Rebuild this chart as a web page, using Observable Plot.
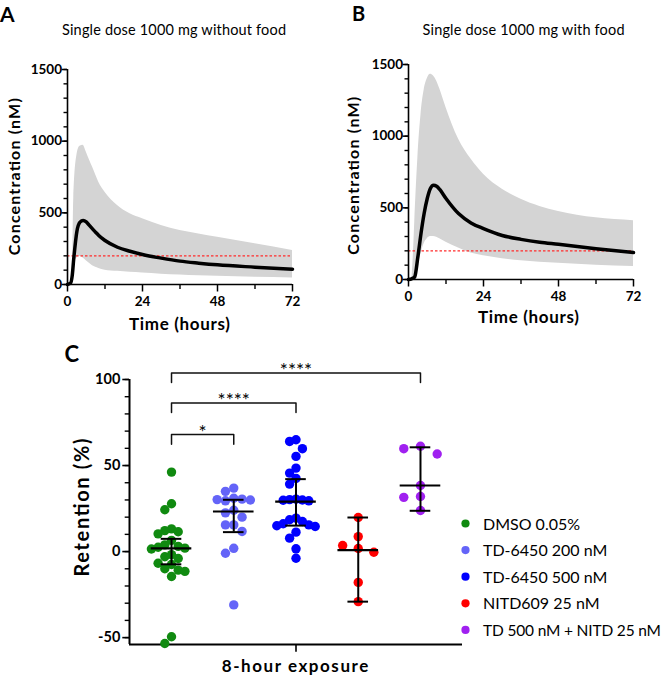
<!DOCTYPE html>
<html>
<head>
<meta charset="utf-8">
<script src="https://cdn.jsdelivr.net/npm/d3@7"></script>
<script src="https://cdn.jsdelivr.net/npm/@observablehq/plot@0.6"></script>
<style>
  html, body { margin: 0; padding: 0; background: #fff; }
  #fig { position: relative; width: 663px; height: 677px; overflow: hidden; color: #000; font-family: Lato, "Open Sans", sans-serif; }
  .panel { position: absolute; }
</style>
</head>
<body>
<div id="fig"></div>
<script>
// ---------------- DATA ----------------
// Panels A & B: simulated concentration-time profiles (nM)
const timeHours = [0, 1, 1.5, 2, 3, 4, 5, 6, 7, 8, 9, 10, 12, 16, 20, 24, 30, 36, 42, 48, 60, 72];
const meanFasted  = [0, 10, 60, 180, 370, 435, 447, 437, 412, 388, 365, 342, 307, 260, 232, 209, 184, 163, 149, 137, 121, 107];
const upperFasted = [0, 0, 0, 600, 900, 965, 972, 925, 870, 819, 765, 714, 644, 551, 493, 458, 412, 377, 353, 330, 284, 237];
const lowerFasted = [0, 0, 0, 130, 185, 195, 185, 165, 148, 130, 120, 112, 100, 92, 85, 80, 72, 66, 61, 57, 51, 46];
const meanFed  = [0, 5, 10, 19, 158, 321, 460, 565, 635, 658, 651, 628, 565, 460, 395, 355, 307, 280, 260, 246, 215, 188];
const upperFed = [0, 0, 150, 400, 850, 1150, 1320, 1400, 1432, 1420, 1385, 1330, 1200, 980, 840, 735, 630, 560, 510, 475, 430, 410];
const lowerFed = [0, 0, 10, 20, 90, 180, 250, 285, 300, 300, 295, 285, 260, 220, 185, 165, 145, 130, 120, 113, 100, 90];
const thresholdNM = [200];
const timeTicks = [0, 24, 48, 72];
const timeMinorTicks = [12, 36, 60];
const concTicks = [0, 500, 1000, 1500];
const concMinorTicks = [0, 100, 200, 300, 400, 500, 600, 700, 800, 900, 1000, 1100, 1200, 1300, 1400, 1500];
const panelTitles = ["Single dose 1000 mg without food", "Single dose 1000 mg with food"];

// Panel C: retention (%) after 8-hour exposure
const groups = ["DMSO 0.05%", "TD-6450 200 nM", "TD-6450 500 nM", "NITD609 25 nM", "TD 500 nM + NITD 25 nM"];
const groupColors = ["#108a10", "#6464f8", "#0000ff", "#ff0000", "#a020f0"];
const dmso  = [46.2, 27.8, 24.3, 13.2, 12.2, 11.5, 10.3, 6.5, 3.9, 3.0, 2.5, 2.0, 1.5, -1.8, -3.0, -4.0, -6.8, -7.5, -10.0, -10.8, -11.5, -14.5, -49.5, -53.4];
const td200 = [36.9, 35.0, 31.0, 30.5, 30.2, 30.0, 29.5, 24.0, 22.5, 20.0, 15.5, 15.5, 11.7, 1.9, -1.0, -31.0];
const td500 = [65.0, 64.0, 59.8, 55.3, 48.5, 45.6, 42.5, 39.2, 30.5, 30.2, 30.0, 29.8, 29.5, 19.4, 18.5, 17.5, 16.2, 15.5, 15.0, 14.6, 11.3, 7.8, 1.6, -3.9];
const nitd  = [19.8, 8.7, 3.5, 1.8, -0.4, -17.9, -29.1];
const combo = [61.2, 59.8, 56.7, 38.4, 32.0, 31.5, 23.9];
const medians     = [1.9, 23.3, 29.0, 0.8, 38.4];
const whiskerLow  = [-7.4, 11.3, 15.1, -29.1, 23.7];
const whiskerHigh = [7.4, 30.1, 42.1, 19.8, 60.6];
const comparisonFrom  = [0, 0, 0];
const comparisonTo    = [1, 2, 4];
const comparisonLevel = [68, 86.4, 103.8];
const comparisonLabel = ["*", "****", "****"];
const retentionTicks = [-50, 0, 50, 100];
const retentionMinorTicks = [-50, -40, -30, -20, -10, 0, 10, 20, 30, 40, 50, 60, 70, 80, 90, 100];
const exposureLabel = "8-hour exposure";

// ---------------- LAYOUT ----------------
const fig = document.getElementById("fig");
const FONT = "Lato, 'Open Sans', sans-serif";

function place(node, left, top) {
  const div = document.createElement("div");
  div.className = "panel";
  div.style.left = left + "px";
  div.style.top = top + "px";
  div.appendChild(node);
  fig.appendChild(div);
}

function pkPanel(mean, lower, upper, L) {
  const rows = timeHours.map((t, i) => ({t, mean: mean[i], lo: lower[i], hi: upper[i]}));
  return Plot.plot({
    width: L.w, height: L.h,
    marginLeft: L.ml, marginRight: L.mr, marginTop: L.mt, marginBottom: L.mb,
    x: {domain: [0, 72], label: null},
    y: {domain: [0, 1500], label: null},
    style: {fontFamily: FONT, fontSize: "13px", fontWeight: "bold", background: "transparent", overflow: "visible"},
    marks: [
      Plot.areaY(rows, {x: "t", y1: "lo", y2: "hi", fill: "#d4d4d4", curve: "monotone-x"}),
      Plot.ruleY(thresholdNM, {stroke: "#ff2b2b", strokeWidth: 1.3, strokeDasharray: "2.5,2"}),
      Plot.line(rows, {x: "t", y: "mean", stroke: "#000", strokeWidth: 3.5, curve: "monotone-x"}),
      Plot.ruleX([0], {stroke: "#000", strokeWidth: 1.6}),
      Plot.ruleY([0], {stroke: "#000", strokeWidth: 1.6}),
      Plot.axisY({ticks: concMinorTicks, tickSize: 3.5, tickFormat: () => "", strokeWidth: 1.4, label: null}),
      Plot.axisY({ticks: concTicks, tickSize: 5.5, tickPadding: 0, tickFormat: d => String(d), fontSize: 13.5, fontWeight: "bold", strokeWidth: 1.5, label: null}),
      Plot.axisX({ticks: timeMinorTicks, tickSize: 5, tickFormat: () => "", strokeWidth: 1.4, label: null}),
      Plot.axisX({ticks: timeTicks, tickSize: 7.5, tickPadding: 4, tickFormat: d => String(d), fontSize: 13.5, fontWeight: "bold", strokeWidth: 1.5, label: null})
    ]
  });
}

place(pkPanel(meanFasted, lowerFasted, upperFasted, {w: 331, h: 310, ml: 67, mr: 39, mt: 69, mb: 26}), 0, 0);
place(pkPanel(meanFed, lowerFed, upperFed, {w: 332, h: 305, ml: 77, mr: 30, mt: 64, mb: 26}), 331, 0);

// ---- Panel C ----
const xDomain = [-0.675, 4.675];
const yDomain = [-54, 100];
const C = {w: 663, h: 337, ml: 129, mr: 201, mt: 39, mb: 33};
const xPxPerUnit = (C.w - C.ml - C.mr) / (xDomain[1] - xDomain[0]);
const yPxPerUnit = (C.h - C.mt - C.mb) / (yDomain[1] - yDomain[0]);
const laneSpacingPx = [6.7, 8.3, 6.4, 15.6, 16.7];
const minSeparationPx = 9;

function swarmOffsets(values, lanePx) {
  const order = d3.range(values.length).sort((a, b) => values[b] - values[a]);
  const placed = [];
  const offsets = new Array(values.length);
  for (const i of order) {
    const yp = values[i] * yPxPerUnit;
    for (let k = 0; ; k++) {
      const lane = k === 0 ? 0 : (k % 2 ? -Math.ceil(k / 2) : Math.ceil(k / 2));
      if (!placed.some(p => p.lane === lane && Math.abs(p.yp - yp) < minSeparationPx)) {
        placed.push({lane, yp});
        offsets[i] = lane * lanePx / xPxPerUnit;
        break;
      }
    }
  }
  return offsets;
}

const groupValues = [dmso, td200, td500, nitd, combo];
const points = [];
groupValues.forEach((vals, g) => {
  const off = swarmOffsets(vals, laneSpacingPx[g]);
  vals.forEach((v, i) => points.push({g, group: groups[g], v, pos: g + off[i]}));
});
const summary = groups.map((name, g) => ({g, median: medians[g], lo: whiskerLow[g], hi: whiskerHigh[g]}));
const medianHalf = 20.3 / xPxPerUnit;
const capHalf = 10.3 / xPxPerUnit;
const bracketDrop = 5.6;
const bracketPts = [];
comparisonFrom.forEach((a, i) => {
  const b = comparisonTo[i], lv = comparisonLevel[i];
  bracketPts.push({id: i, x: a, y: lv - bracketDrop}, {id: i, x: a, y: lv}, {id: i, x: b, y: lv}, {id: i, x: b, y: lv - bracketDrop});
});
const comparisons = comparisonFrom.map((a, i) => ({x: (a + comparisonTo[i]) / 2, y: comparisonLevel[i], label: comparisonLabel[i]}));
const centerTick = [(groups.length - 1) / 2];

const plotC = Plot.plot({
  width: C.w, height: C.h, marginLeft: C.ml, marginRight: C.mr, marginTop: C.mt, marginBottom: C.mb,
  x: {domain: xDomain, label: null},
  y: {domain: yDomain, label: null},
  color: {domain: groups, range: groupColors},
  style: {fontFamily: FONT, fontSize: "14px", fontWeight: "bold", background: "transparent", overflow: "visible"},
  marks: [
    Plot.ruleX([xDomain[0]], {y1: yDomain[0], y2: retentionTicks[retentionTicks.length - 1], stroke: "#000", strokeWidth: 2}),
    Plot.ruleY([yDomain[0]], {stroke: "#000", strokeWidth: 2}),
    Plot.axisY({ticks: retentionMinorTicks, tickSize: 4.3, tickFormat: () => "", strokeWidth: 1.4, label: null}),
    Plot.axisY({ticks: retentionTicks, tickSize: 6.7, tickPadding: 2.5, tickFormat: d => String(d), fontSize: 14.5, fontWeight: "bold", strokeWidth: 1.6, label: null}),
    Plot.axisX({ticks: centerTick, tickSize: 7.7, tickFormat: () => "", strokeWidth: 1.6, label: null}),
    Plot.dot(points, {x: "pos", y: "v", r: 4.7, fill: "group", stroke: null}),
    Plot.ruleX(summary, {x: "g", y1: "lo", y2: "hi", stroke: "#000", strokeWidth: 2}),
    Plot.ruleY(summary, {y: "lo", x1: d => d.g - capHalf, x2: d => d.g + capHalf, stroke: "#000", strokeWidth: 2}),
    Plot.ruleY(summary, {y: "hi", x1: d => d.g - capHalf, x2: d => d.g + capHalf, stroke: "#000", strokeWidth: 2}),
    Plot.ruleY(summary, {y: "median", x1: d => d.g - medianHalf, x2: d => d.g + medianHalf, stroke: "#000", strokeWidth: 2.2}),
    Plot.line(bracketPts, {x: "x", y: "y", z: "id", stroke: "#111", strokeWidth: 1.5}),
    Plot.text(comparisons, {x: "x", y: "y", text: "label", lineAnchor: "middle", dy: -2, fontSize: 19, fontWeight: "normal", fill: "#000", ariaLabel: "significance"})
  ]
});
d3.select(plotC).selectAll("g[aria-label=significance] text").style("letter-spacing", "1.2px");
place(plotC, 0, 340);

// ---- Overlay text: panel letters, titles, axis titles, legend ----
const ov = d3.select(fig).append("svg")
  .attr("width", 663).attr("height", 677)
  .style("position", "absolute").style("left", 0).style("top", 0)
  .style("pointer-events", "none").style("font-family", FONT);

function txt(x, y, s, o) {
  const t = ov.append("text").attr("x", x).attr("y", y).text(s)
    .attr("font-size", o.size).attr("font-weight", o.weight || "normal")
    .attr("text-anchor", o.anchor || "start").attr("fill", "#000");
  if (o.len) t.attr("textLength", o.len).attr("lengthAdjust", "spacing");
  if (o.rotate) t.attr("transform", `rotate(-90 ${x} ${y})`);
  return t;
}

txt(0, 21.7, "A", {size: 21, weight: "bold"});
txt(352, 20.5, "B", {size: 20, weight: "bold"});
txt(64.5, 361.5, "C", {size: 22, weight: "bold"});

txt(174, 35, panelTitles[0], {size: 14.5, anchor: "middle", len: 224});
txt(523.5, 35, panelTitles[1], {size: 14.5, anchor: "middle", len: 202});

txt(20.1, 176.7, "Concentration (nM)", {size: 16, weight: "bold", anchor: "middle", rotate: true, len: 157});
txt(359.5, 175.8, "Concentration (nM)", {size: 16, weight: "bold", anchor: "middle", rotate: true, len: 158});
txt(179.5, 329.5, "Time (hours)", {size: 17, weight: "bold", anchor: "middle", len: 101});
txt(528.5, 322.5, "Time (hours)", {size: 17, weight: "bold", anchor: "middle", len: 101});

txt(89.3, 507.5, "Retention (%)", {size: 20, weight: "bold", anchor: "middle", rotate: true, len: 138});
txt(295, 671.7, exposureLabel, {size: 17, weight: "bold", anchor: "middle", len: 146.6});

const legendTop = 523.5, legendStep = 26.6;
groups.forEach((name, i) => {
  const cy = legendTop + i * legendStep;
  ov.append("circle").attr("cx", 465.5).attr("cy", cy).attr("r", 4.1).attr("fill", groupColors[i]);
  const isLast = i === groups.length - 1;
  txt(483, cy + 6, name, isLast ? {size: 15.5, len: 178} : {size: 16});
});
</script>
</body>
</html>
